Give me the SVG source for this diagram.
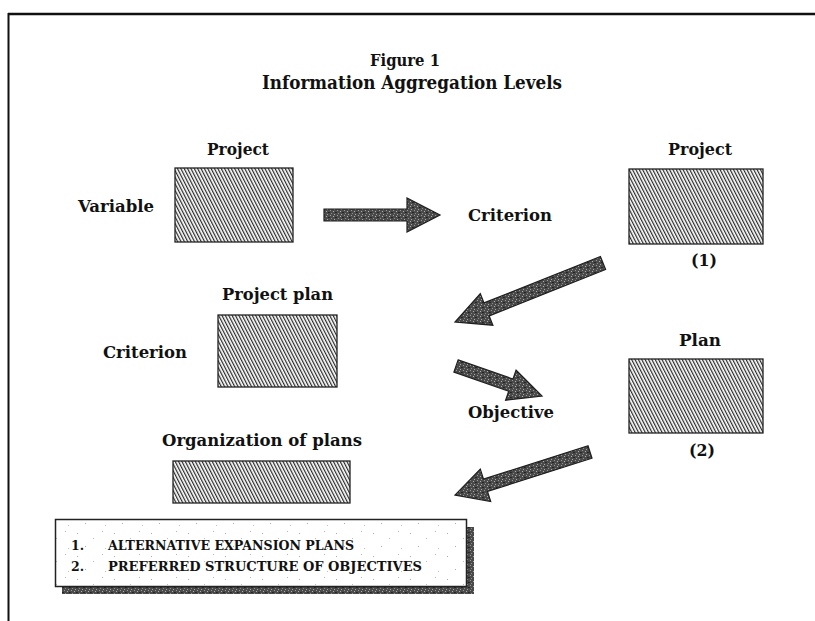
<svg xmlns="http://www.w3.org/2000/svg" width="815" height="621" viewBox="0 0 815 621">
  <defs>
    <style>
      .lbl { font-family: "DejaVu Serif", "Liberation Serif", serif; font-weight: bold; font-size: 17px; fill: #111; }
      .leg { font-family: "DejaVu Serif", "Liberation Serif", serif; font-weight: bold; font-size: 12.5px; fill: #111; }
      .box { fill: url(#hatch); stroke: #222; stroke-width: 1.3; }
      .arrow { fill: url(#grain); stroke: #1e1e1e; stroke-width: 1.2; stroke-linejoin: miter; }
    </style>
    <!-- fine diagonal shading used inside every box -->
    <pattern id="hatch" patternUnits="userSpaceOnUse" width="3" height="12" patternTransform="rotate(-27)">
      <rect width="3" height="12" fill="#fff"/>
      <line x1="0.6" y1="0" x2="0.6" y2="12" stroke="#2a2a2a" stroke-width="1.25"/>
    </pattern>
    <!-- stippled dark grey for the block arrows and shadow -->
    <pattern id="grain" patternUnits="userSpaceOnUse" width="7" height="5">
      <rect width="7" height="5" fill="#4a4a4a"/>
      <rect x="1" y="0" width="1" height="1" fill="#9a9a9a"/>
      <rect x="4" y="1" width="1" height="1" fill="#b0b0b0"/>
      <rect x="2" y="3" width="1" height="1" fill="#8c8c8c"/>
      <rect x="6" y="2" width="1" height="1" fill="#222"/>
      <rect x="5" y="4" width="1" height="1" fill="#a8a8a8"/>
      <rect x="0" y="2" width="1" height="1" fill="#2a2a2a"/>
    </pattern>
    <!-- faint speckle on the legend panel -->
    <pattern id="speck" patternUnits="userSpaceOnUse" width="37" height="23">
      <rect width="37" height="23" fill="#fff"/>
      <rect x="3" y="4" width="1" height="1" fill="#aaa"/>
      <rect x="19" y="9" width="1" height="1" fill="#bbb"/>
      <rect x="28" y="2" width="1" height="1" fill="#b5b5b5"/>
      <rect x="11" y="17" width="1" height="1" fill="#aaa"/>
      <rect x="31" y="19" width="1" height="1" fill="#c0c0c0"/>
    </pattern>
  </defs>

  <!-- page frame -->
  <g id="frame">
    <line x1="8" y1="14" x2="815" y2="14" stroke="#111" stroke-width="2.5"/>
    <line x1="8.5" y1="13" x2="8.5" y2="621" stroke="#111" stroke-width="2"/>
  </g>

  <!-- heading -->
  <g id="title">
    <text class="lbl" x="405" y="66" text-anchor="middle" font-size="13" textLength="70" lengthAdjust="spacingAndGlyphs">Figure 1</text>
    <text class="lbl" x="412" y="89" text-anchor="middle" style="font-size:18px; font-weight:600" textLength="300" lengthAdjust="spacingAndGlyphs">Information Aggregation Levels</text>
  </g>

  <!-- project / variable level -->
  <g id="node-project-variable">
    <text class="lbl" x="238" y="155" text-anchor="middle" textLength="62" lengthAdjust="spacingAndGlyphs">Project</text>
    <text class="lbl" x="78" y="212" textLength="76" lengthAdjust="spacingAndGlyphs">Variable</text>
    <rect class="box" x="175" y="168" width="118" height="74"/>
  </g>

  <!-- project / criterion level -->
  <g id="node-project-criterion">
    <text class="lbl" x="468" y="221" textLength="84" lengthAdjust="spacingAndGlyphs">Criterion</text>
    <text class="lbl" x="700" y="155" text-anchor="middle" textLength="64" lengthAdjust="spacingAndGlyphs">Project</text>
    <rect class="box" x="629" y="169" width="134" height="75"/>
    <text class="lbl" x="704" y="266" text-anchor="middle" textLength="26" lengthAdjust="spacingAndGlyphs">(1)</text>
  </g>

  <!-- project plan / criterion level -->
  <g id="node-project-plan">
    <text class="lbl" x="277.5" y="300" text-anchor="middle" textLength="111" lengthAdjust="spacingAndGlyphs">Project plan</text>
    <text class="lbl" x="103" y="358" textLength="84" lengthAdjust="spacingAndGlyphs">Criterion</text>
    <rect class="box" x="218" y="315" width="119" height="72"/>
  </g>

  <!-- plan / objective level -->
  <g id="node-plan-objective">
    <text class="lbl" x="468" y="418" textLength="86" lengthAdjust="spacingAndGlyphs">Objective</text>
    <text class="lbl" x="700" y="346" text-anchor="middle" textLength="42" lengthAdjust="spacingAndGlyphs">Plan</text>
    <rect class="box" x="629" y="359" width="134" height="74"/>
    <text class="lbl" x="702" y="456" text-anchor="middle" textLength="26" lengthAdjust="spacingAndGlyphs">(2)</text>
  </g>

  <!-- organization of plans -->
  <g id="node-organization">
    <text class="lbl" x="262" y="446" text-anchor="middle" textLength="200" lengthAdjust="spacingAndGlyphs">Organization of plans</text>
    <rect class="box" x="173" y="461" width="177" height="42"/>
  </g>

  <!-- block arrows between levels -->
  <g id="connectors">
    <polygon class="arrow" points="324,209 407,209 407,198 440,215 407,232 407,221 324,221"/>
    <polygon class="arrow" points="600.4,256.5 484,302.9 480.3,293.6 455,322 492.9,325.2 489.2,315.9 605.6,269.5"/>
    <polygon class="arrow" points="458.1,359.9 513,379 516.1,370 542,396 505.6,400.2 508.7,391.3 453.9,372.1"/>
    <polygon class="arrow" points="588,445.8 483.5,479.1 480.3,469.1 455,495 490.7,501.5 487.5,491.5 592,458.2"/>
  </g>

  <!-- legend panel with drop shadow -->
  <g id="legend">
    <rect x="62" y="527" width="412" height="67" fill="url(#grain)"/>
    <rect x="55.5" y="519.5" width="411" height="67" fill="url(#speck)" stroke="#222" stroke-width="1.5"/>
    <text class="leg" x="71" y="550">1.</text>
    <text class="leg" x="108" y="550" textLength="246" lengthAdjust="spacingAndGlyphs">ALTERNATIVE EXPANSION PLANS</text>
    <text class="leg" x="71" y="571">2.</text>
    <text class="leg" x="108" y="571" textLength="314" lengthAdjust="spacingAndGlyphs">PREFERRED STRUCTURE OF OBJECTIVES</text>
  </g>
</svg>
